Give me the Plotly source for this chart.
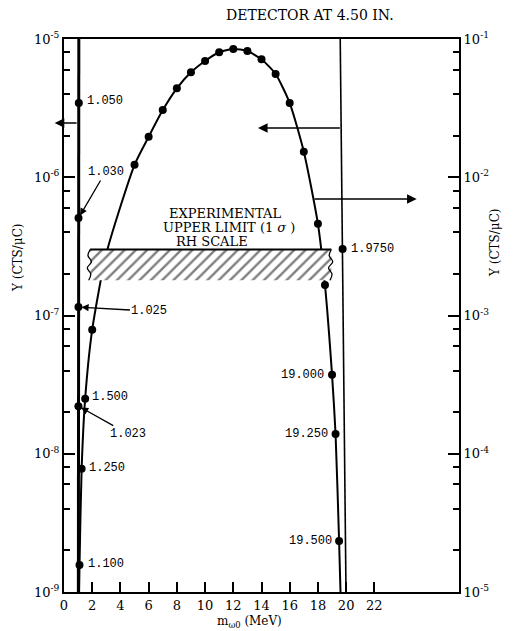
import math
import plotly.graph_objects as go

# ---------------- data ----------------
# main yield curve, LH scale (CTS/uC) vs mass (MeV)
curve_mass = [1.10, 1.25, 1.50, 2.0, 3.0, 5.0, 6.0, 7.0, 8.0, 9.0, 10.0, 11.0,
              12.0, 13.0, 14.0, 15.0, 16.0, 17.0, 18.0, 18.5, 19.0, 19.25, 19.5]
curve_yield = [1.57e-9, 7.8e-9, 2.5e-8, 7.9e-8, 2.8e-7, 1.23e-6, 1.96e-6, 3.06e-6,
               4.4e-6, 5.74e-6, 6.93e-6, 8.02e-6, 8.47e-6, 8.18e-6, 7.13e-6, 5.58e-6,
               3.44e-6, 1.53e-6, 4.6e-7, 1.66e-7, 3.72e-8, 1.39e-8, 2.34e-9]
curve_end_mass = [1.07, 19.6]          # where the curve meets the bottom axis
curve_end_yield = [1e-9, 1e-9]

# near-threshold curve (LH scale)
thresh_mass = [1.023, 1.025, 1.030, 1.050]
thresh_yield = [2.21e-8, 1.15e-7, 5.07e-7, 3.44e-6]
thresh_end_mass = [1.02, 1.05]
thresh_end_yield = [1e-9, 1e-5]

# end-point curve (RH scale)
endpt_line_mass = [19.58, 19.62, 19.75, 19.80, 19.99]
endpt_line_yield = [1e-1, 4.28e-2, 3.03e-3, 7.85e-4, 1e-5]
endpt_mass = [19.75]
endpt_yield = [3.03e-3]

# experimental upper limit band (RH scale)
limit_mass = [1.85, 18.95]
limit_hi = 3.0e-3
limit_lo = 1.8e-3

x_ticks = [0, 2, 4, 6, 8, 10, 12, 14, 16, 18, 20, 22]
lh_decades = [-9, -8, -7, -6, -5]
rh_decades = [-5, -4, -3, -2, -1]

SERIF = "DejaVu Serif"
MONO = "Liberation Mono"

# plot-area geometry in page pixels (page has an 8px body margin)
PL, PR, PT, PB = 64, 459, 39, 592


def px(xp):
    return (xp - PL) / (PR - PL)


def py(yp):
    return 1 - (yp - PT) / (PB - PT)


fig = go.Figure()

# hatched band
bx = [limit_mass[0], limit_mass[1], limit_mass[1], limit_mass[0], limit_mass[0]]
by = [limit_hi, limit_hi, limit_lo, limit_lo, limit_hi]
fig.add_trace(go.Scatter(x=bx, y=by, yaxis="y2", mode="lines", fill="toself",
                         line=dict(width=0, color="black"), fillcolor="white",
                         fillpattern=dict(shape="/", size=8, solidity=0.3,
                                          fgcolor="black", bgcolor="white"),
                         hoverinfo="skip", showlegend=False))
fig.add_trace(go.Scatter(x=limit_mass, y=[limit_hi, limit_hi], yaxis="y2", mode="lines",
                         line=dict(width=2, color="black"), showlegend=False))
# wavy break marks at the band ends
wig = [0.0, -0.15, 0.1, -0.2, 0.05, -0.1]
nb = len(wig)
yb = [10 ** (math.log10(limit_hi) + (math.log10(limit_lo) - math.log10(limit_hi)) * i / (nb - 1))
      for i in range(nb)]
for xe in limit_mass:
    fig.add_trace(go.Scatter(x=[xe + w for w in wig], y=yb, yaxis="y2", mode="lines",
                             line=dict(width=1.3, color="black", shape="spline"),
                             showlegend=False))

# threshold curve (thick vertical)
fig.add_trace(go.Scatter(x=[thresh_end_mass[0]] + thresh_mass + [thresh_end_mass[1]],
                         y=[thresh_end_yield[0]] + thresh_yield + [thresh_end_yield[1]],
                         mode="lines", line=dict(width=3, color="black"), showlegend=False))
fig.add_trace(go.Scatter(x=thresh_mass, y=thresh_yield, mode="markers",
                         marker=dict(size=8, color="black"), showlegend=False))

# main curve
fig.add_trace(go.Scatter(x=[curve_end_mass[0]] + curve_mass + [curve_end_mass[1]],
                         y=[curve_end_yield[0]] + curve_yield + [curve_end_yield[1]],
                         mode="lines", line=dict(width=2, color="black", shape="spline",
                                                 smoothing=0.6),
                         showlegend=False))
fig.add_trace(go.Scatter(x=curve_mass, y=curve_yield, mode="markers",
                         marker=dict(size=8, color="black"), showlegend=False))

# end-point curve (RH scale)
fig.add_trace(go.Scatter(x=endpt_line_mass, y=endpt_line_yield, yaxis="y2", mode="lines",
                         line=dict(width=1.6, color="black"), showlegend=False))
fig.add_trace(go.Scatter(x=endpt_mass, y=endpt_yield, yaxis="y2", mode="markers",
                         marker=dict(size=8, color="black"), showlegend=False))

lg = math.log10
ann = []
lab_font = dict(family=MONO, size=12, color="black")


def lab(x, y, text, xanchor, xshift, yshift=0, yref="y"):
    ann.append(dict(x=x, y=lg(y), xref="x", yref=yref, text=text, showarrow=False,
                    xanchor=xanchor, yanchor="middle", xshift=xshift, yshift=yshift,
                    font=lab_font))


lab(1.05, 3.44e-6, "1.050", "left", 6, 2)
lab(1.25, 7.8e-9, "1.250", "left", 5, 1)
lab(1.50, 2.5e-8, "1.500", "left", 5, 2)
lab(1.10, 1.57e-9, "1.100", "left", 6, 1)
lab(19.0, 3.72e-8, "19.000", "right", -6, 0)
lab(19.25, 1.39e-8, "19.250", "right", -6, 0)
lab(19.5, 2.34e-9, "19.500", "right", -5, 0)
lab(19.75, 3.03e-3, "1.9750", "left", 6, 0, "y2")

# labels with pointer arrows (ax, ay = pixel offset of the label from the point)
for (x, y, t, ax, ay) in [(1.030, 5.07e-7, "1.030", 27, -46),
                         (1.025, 1.15e-7, "1.025", 71, 4),
                         (1.023, 2.21e-8, "1.023", 50, 28)]:
    ann.append(dict(x=x, y=lg(y), xref="x", yref="y", text=t, showarrow=True,
                    ax=ax, ay=ay, arrowhead=2, arrowsize=1.1,
                    arrowwidth=1.3, arrowcolor="black", standoff=3, font=lab_font))

# scale-indicating arrows
for (xh, xt, yv) in [(-0.66, 1.0, -5.608), (13.75, 19.66, -5.644), (25.0, 17.65, -6.157)]:
    ann.append(dict(x=xh, y=yv, ax=xt, ay=yv, xref="x", yref="y", axref="x", ayref="y",
                    text="", showarrow=True, arrowhead=2, arrowsize=1.2, arrowwidth=1.6,
                    arrowcolor="black"))

# band caption
for (txt, xc, yc) in [("EXPERIMENTAL", 225, 213), ("UPPER LIMIT (1 <i>σ</i> )", 229, 227),
                      ("RH SCALE", 212, 241)]:
    ann.append(dict(x=px(xc), y=py(yc), xref="paper", yref="paper", text=txt,
                    xanchor="center", yanchor="middle", showarrow=False,
                    font=dict(family=SERIF, size=13, color="black")))

# title & axis titles
ann.append(dict(x=px(310), y=py(15), xref="paper", yref="paper",
                text="DETECTOR AT 4.50 IN.", showarrow=False,
                xanchor="center", yanchor="middle",
                font=dict(family=SERIF, size=14, color="black")))
ann.append(dict(x=px(18), y=py(258), xref="paper", yref="paper",
                text="Y (CTS/μC)", textangle=-90, showarrow=False,
                xanchor="center", yanchor="middle",
                font=dict(family=SERIF, size=12, color="black")))
ann.append(dict(x=px(495), y=py(243), xref="paper", yref="paper",
                text="Y (CTS/μC)", textangle=-90, showarrow=False,
                xanchor="center", yanchor="middle",
                font=dict(family=SERIF, size=12, color="black")))
ann.append(dict(x=px(249), y=py(622), xref="paper", yref="paper",
                text="m<sub>ω0</sub> (MeV)", showarrow=False,
                xanchor="center", yanchor="middle",
                font=dict(family=SERIF, size=12, color="black")))


def log_axis(decades, side):
    minor = [m * 10 ** d for d in decades[:-1] for m in (2, 4, 6, 8)]
    return dict(type="log", range=[decades[0], decades[-1]],
                tickmode="array", tickvals=[10 ** d for d in decades],
                ticktext=["10<sup>%d</sup>" % d for d in decades],
                ticks="inside", ticklen=11, tickwidth=1.5, tickcolor="black",
                minor=dict(tickmode="array", tickvals=minor, ticks="inside", ticklen=6,
                           tickwidth=1.5, tickcolor="black", showgrid=False),
                showline=True, linewidth=2, linecolor="black", showgrid=False,
                zeroline=False, side=side, automargin=False,
                tickfont=dict(family=SERIF, size=13, color="black"))


# the page body adds an 8px margin, so the figure is 8px smaller and margins shifted
fig.update_layout(
    width=514 - 8, height=631 - 8,
    margin=dict(l=PL - 8, r=514 - PR, t=PT - 8, b=631 - PB),
    paper_bgcolor="white", plot_bgcolor="white",
    showlegend=False,
    xaxis=dict(range=[0, 28], tickmode="array", tickvals=x_ticks,
               ticks="inside", ticklen=10, tickwidth=1.5, tickcolor="black",
               showline=True, linewidth=2, linecolor="black", mirror=True,
               showgrid=False, zeroline=False, automargin=False,
               tickfont=dict(family=SERIF, size=13, color="black")),
    yaxis=log_axis(lh_decades, "left"),
    yaxis2=dict(**log_axis(rh_decades, "right"), overlaying="y"),
    annotations=ann,
)

fig.write_html("out.html")
